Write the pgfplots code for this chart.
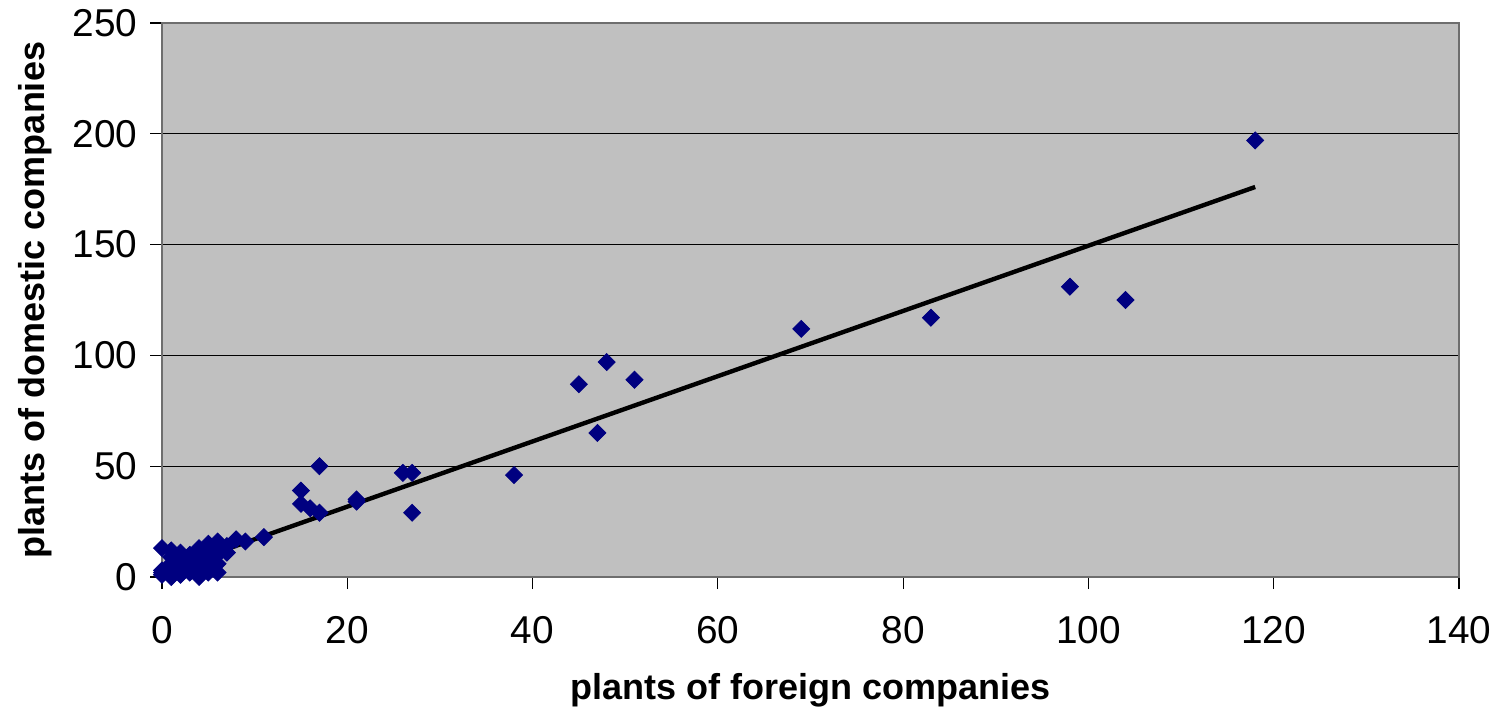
\documentclass[border=0pt]{standalone}
\usepackage{pgfplots}
\pgfplotsset{compat=1.18}
\usepackage{fontspec}
\setmainfont{Liberation Sans}

\definecolor{plotbg}{RGB}{192,192,192}
\definecolor{marknavy}{RGB}{0,0,128}
\definecolor{frame}{RGB}{110,110,110}

\begin{document}
\begin{tikzpicture}
\useasboundingbox (0,0) rectangle (752.5pt,356pt);
\begin{axis}[
  at={(81pt,67.5pt)}, anchor=south west,
  scale only axis,
  width=648.5pt, height=277pt,
  xmin=0, xmax=140, ymin=0, ymax=250,
  xtick={0,20,...,140}, ytick={0,50,...,250},
  axis background/.style={fill=plotbg},
  axis line style={draw=frame, line width=1pt},
  tick align=outside, xtick pos=left, ytick pos=left,
  major tick length=6pt,
  tick style={black, line width=0.6pt},
  ymajorgrids, grid style={black, line width=0.5pt},
  tick label style={font=\fontsize{19.4}{19.4}\selectfont},
  xticklabel style={yshift=-10pt},
  yticklabel style={xshift=-2.7pt},
  /pgf/number format/assume math mode=true,
  xlabel={plants of foreign companies},
  ylabel={plants of domestic companies},
  label style={font=\fontsize{18}{18}\selectfont\bfseries},
  xlabel style={at={(axis description cs:0.5,-0.204)}, anchor=center},
  ylabel style={at={(axis description cs:-0.0979,0.5)}, anchor=center},
  clip=false,
]
% plant counts per region
\addplot[only marks, mark=square*, mark size=3pt,
  mark options={rotate=45, fill=marknavy, draw=marknavy}]
  coordinates {
  (0,13) (0,3) (0,1) (0,2) (1,12) (1,9) (1,6) (1,3) (1,0)
  (2,11) (2,8) (2,6) (2,3) (2,1) (3,10) (3,8) (3,6) (3,4) (3,2)
  (4,13) (4,11) (4,9) (4,7) (4,5) (4,0) (5,15) (5,12) (5,10) (5,8)
  (5,5) (5,2) (6,16) (6,13) (6,10) (6,6) (6,2) (7,11) (7,14)
  (8,17) (9,16) (11,18)
  (15,39) (15,33) (16,31) (17,29) (17,50) (21,35) (21,34)
  (26,47) (27,47) (27,29) (38,46) (45,87) (47,65) (48,97) (51,89)
  (69,112) (83,117) (98,131) (104,125) (118,197)
  };
% linear trend
\addplot[black, line width=2.2pt, no marks] coordinates {(0,2.3) (118,176)};
\end{axis}
\end{tikzpicture}
\end{document}
